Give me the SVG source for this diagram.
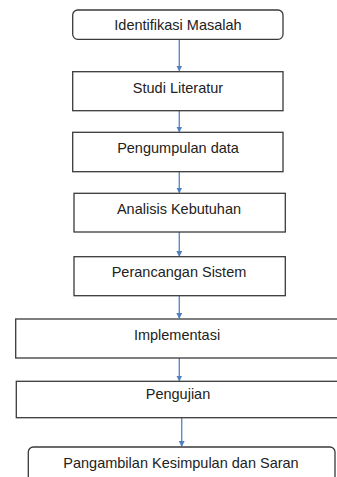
<svg xmlns="http://www.w3.org/2000/svg" width="337" height="477" viewBox="0 0 337 477">
<style>
.box{fill:#fff;stroke:#3a3a3a;stroke-width:1.3}
.lbl{font-family:"Liberation Sans",Arial,sans-serif;font-size:14.5px;fill:#222;text-anchor:middle;dominant-baseline:central}
.conn{stroke:#5b8ccb;stroke-width:1.4;fill:none;marker-end:url(#ah)}
</style>
<defs>
<marker id="ah" markerWidth="6" markerHeight="6" refX="5" refY="3" orient="auto" markerUnits="userSpaceOnUse">
<path d="M0,0 L6,3 L0,6 Z" fill="#4f7fc0"/>
</marker>
</defs>
<rect width="337" height="477" fill="#fff"/>
<g id="connectors">
<line class="conn" x1="179.3" y1="39.5" x2="179.3" y2="70.5"/>
<line class="conn" x1="179.3" y1="111" x2="179.3" y2="131.5"/>
<line class="conn" x1="179.3" y1="172" x2="179.3" y2="192.5"/>
<line class="conn" x1="179.3" y1="232" x2="179.3" y2="256"/>
<line class="conn" x1="179.3" y1="296" x2="179.3" y2="318"/>
<line class="conn" x1="179.3" y1="358" x2="179.3" y2="380.5"/>
<line class="conn" x1="181.7" y1="418" x2="181.7" y2="446"/>
</g>
<g id="n1"><rect class="box" x="72.7" y="10" width="210.3" height="29.3" rx="5"/><text class="lbl" x="178" y="25">Identifikasi Masalah</text></g>
<g id="n2"><rect class="box" x="72.7" y="71.7" width="210.3" height="39" /><text class="lbl" x="178" y="88">Studi Literatur</text></g>
<g id="n3"><rect class="box" x="72.7" y="132.3" width="210.3" height="39.4" /><text class="lbl" x="178" y="148">Pengumpulan data</text></g>
<g id="n4"><rect class="box" x="74" y="193.3" width="211.3" height="38.7" /><text class="lbl" x="179" y="209">Analisis Kebutuhan</text></g>
<g id="n5"><rect class="box" x="74" y="256.7" width="211.3" height="39" /><text class="lbl" x="179" y="271.7">Perancangan Sistem</text></g>
<g id="n6"><rect class="box" x="15.7" y="319" width="330" height="39" /><text class="lbl" x="177" y="335">Implementasi</text></g>
<g id="n7"><rect class="box" x="16.3" y="381.3" width="330" height="36.4" /><text class="lbl" x="178" y="394.3">Pengujian</text></g>
<g id="n8"><rect class="box" x="28.3" y="447" width="306.7" height="40" rx="5"/><text class="lbl" x="181" y="463">Pangambilan Kesimpulan dan Saran</text></g>
</svg>
